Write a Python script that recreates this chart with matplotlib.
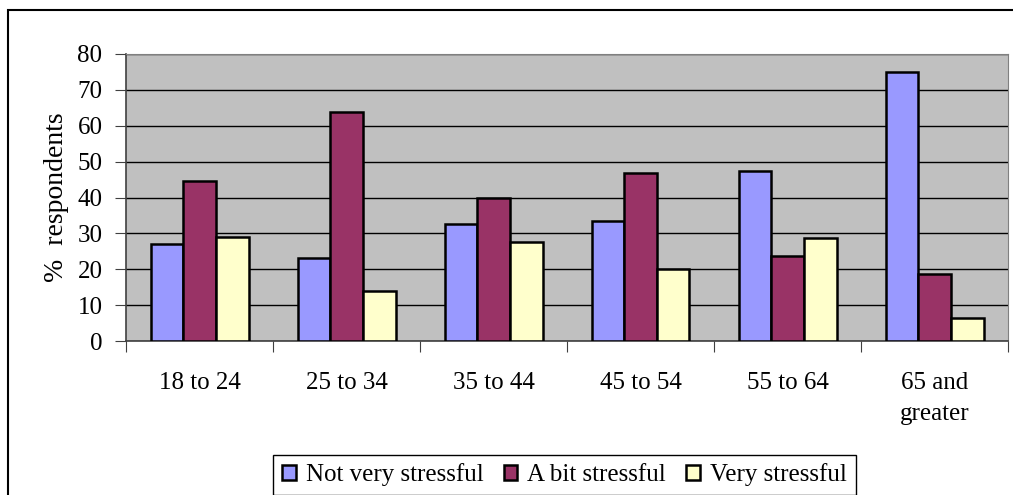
import numpy as np
import matplotlib
matplotlib.use("Agg")
import matplotlib.pyplot as plt
from matplotlib.patches import Rectangle

plt.rcParams['font.family'] = ['Liberation Serif', 'DejaVu Serif']

categories = ['18 to 24', '25 to 34', '35 to 44', '45 to 54', '55 to 64', '65 and\ngreater']
series_names = ['Not very stressful', 'A bit stressful', 'Very stressful']
not_very = [27, 23, 32.5, 33.5, 47.5, 75]
a_bit = [44.6, 63.7, 40, 46.7, 23.8, 18.8]
very = [29.1, 13.9, 27.6, 20, 28.6, 6.4]
colors = ['#9999FF', '#993366', '#FFFFCC']

fig = plt.figure(figsize=(10.13, 4.95), dpi=100)
ax = fig.add_axes([126/1013, 1-341/495, (1008-126)/1013, (341-54)/495])
ax.set_facecolor('#C0C0C0')

x = np.arange(len(categories))
w = 1/4.5
for i, (vals, name) in enumerate(zip([not_very, a_bit, very], series_names)):
    ax.bar(x + (i-1)*w, vals, width=w, color=colors[i], edgecolor='black',
           linewidth=1.8, label=name, zorder=3)

ax.set_xlim(-0.5, len(categories)-0.5)
ax.set_ylim(0, 80)
ax.set_yticks(range(0, 81, 10))
ax.yaxis.grid(True, color='black', linewidth=1, zorder=1)
ax.set_axisbelow(True)

# ticks between the groups, labels at the group centres
ax.set_xticks(np.arange(-0.5, len(categories)))
ax.set_xticklabels([])
ax.set_xticks(x, minor=True)
ax.set_xticklabels(categories, minor=True, fontsize=18, linespacing=1.55, va='top')
ax.tick_params(axis='x', which='major', direction='out', length=8, color='#404040')
ax.tick_params(axis='x', which='minor', length=0, pad=22)
ax.tick_params(axis='y', direction='out', length=8, color='#404040', labelsize=18, pad=9)

for s in ['top', 'right']:
    ax.spines[s].set_color('#808080')
for s in ['left', 'bottom']:
    ax.spines[s].set_color('#404040')
    ax.spines[s].set_linewidth(1.2)

ax.set_ylabel('%  respondents', fontsize=20)
ax.yaxis.set_label_coords(-57/882, 0.5)

fig.legend(loc='center', bbox_to_anchor=(564.5/1013, 1-475/495), ncol=3,
           fontsize=18, frameon=True, fancybox=False, edgecolor='black',
           handlelength=0.55, handleheight=0.55, handletextpad=0.4,
           columnspacing=0.8, borderpad=0.35, borderaxespad=0, framealpha=1)

fig.patches.append(Rectangle((8/1013, -0.1), 2, 1-10/495+0.1, fill=False,
                             edgecolor='black', linewidth=1.5,
                             transform=fig.transFigure))

fig.savefig('out.png', dpi=100)
